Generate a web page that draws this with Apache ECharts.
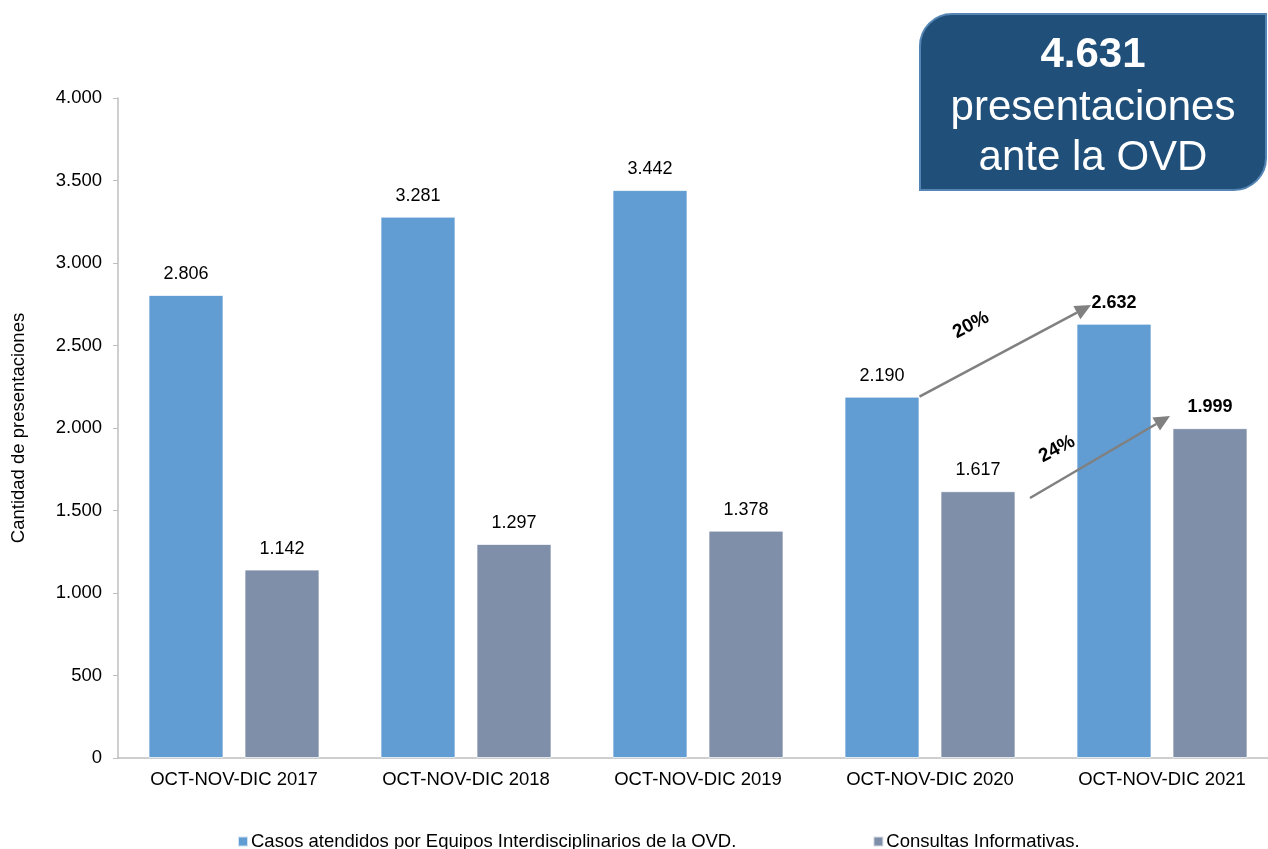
<!DOCTYPE html>
<html><head><meta charset="utf-8">
<script src="https://cdn.jsdelivr.net/npm/echarts@6/dist/echarts.min.js"></script>
<style>html,body{margin:0;padding:0;background:#fff}#c{width:1268px;height:849px}</style>
</head><body><div id="c"></div>
<script>
const categories = ['OCT-NOV-DIC 2017','OCT-NOV-DIC 2018','OCT-NOV-DIC 2019','OCT-NOV-DIC 2020','OCT-NOV-DIC 2021'];
const casos = [2806, 3281, 3442, 2190, 2632];
const consultas = [1142, 1297, 1378, 1617, 1999];
const seriesNames = ['Casos atendidos por Equipos Interdisciplinarios de la OVD.', 'Consultas Informativas.'];
const yTicks = [0, 500, 1000, 1500, 2000, 2500, 3000, 3500, 4000];
const growth = ['20%', '24%'];
const totalText = ['4.631', 'presentaciones', 'ante la OVD'];

const FONT = '"Liberation Sans", Arial, sans-serif';
const fmt = v => String(v).replace(/\B(?=(\d{3})+(?!\d))/g, '.');
const BLUE = '#619dd2', GRAY = '#7f8fa9';
const FS = 18.5;

const chart = echarts.init(document.getElementById('c'));
function lbl(){
  return {
    show: true, position: 'top', distance: 12,
    fontFamily: FONT, fontSize: 18, color: '#000',
    formatter: p => fmt(p.value)
  };
}
function mkData(arr){
  return arr.map((v,i)=> i === arr.length-1 ? {value:v, label:{fontWeight:'bold'}} : v);
}
chart.setOption({
  animation: false,
  textStyle: {fontFamily: FONT},
  grid: {left: 118, right: -10, top: 98, bottom: 91, containLabel: false, outerBoundsMode: 'none'},
  legend: {
    top: 827, left: 232, icon: 'rect', itemWidth: 10, itemHeight: 10, itemGap: 136,
    textStyle: {fontFamily: FONT, fontSize: FS, color: '#000', padding: [0,0,0,-2]},
    data: seriesNames
  },
  xAxis: {
    type: 'category', data: categories,
    axisLine: {lineStyle: {color: '#bfbfbf', width: 1.5}},
    axisTick: {show: false},
    axisLabel: {fontFamily: FONT, fontSize: FS, color: '#000', margin: 12}
  },
  yAxis: {
    type: 'value', min: yTicks[0], max: yTicks[yTicks.length-1], interval: 500,
    name: 'Cantidad de presentaciones', nameLocation: 'middle', nameGap: 90,
    nameTextStyle: {fontFamily: FONT, fontSize: FS, color: '#000'},
    axisLine: {show: true, lineStyle: {color: '#bfbfbf', width: 1.5}},
    axisTick: {show: true, length: 5, lineStyle: {color: '#bfbfbf'}},
    splitLine: {show: false},
    axisLabel: {fontFamily: FONT, fontSize: FS, color: '#000', margin: 16, formatter: v => fmt(v)}
  },
  series: [
    {name: seriesNames[0], type: 'bar', data: mkData(casos), barWidth: 75, barGap: '28%',
     itemStyle: {color: BLUE, borderColor: 'rgba(255,255,255,0.7)', borderWidth: 1}, label: lbl()},
    {name: seriesNames[1], type: 'bar', data: mkData(consultas), barWidth: 75,
     itemStyle: {color: GRAY, borderColor: 'rgba(255,255,255,0.7)', borderWidth: 1}, label: lbl()}
  ]
});

// annotations positioned from data coordinates
function px(ci, v){ return chart.convertToPixel({xAxisIndex:0, yAxisIndex:0}, [ci, v]); }
const off = 48; // half of (bar width + gap)
function arrow(p0, p1){
  const dx = p1[0]-p0[0], dy = p1[1]-p0[1];
  const L = Math.hypot(dx,dy), ux = dx/L, uy = dy/L;
  const hl = 16, hw = 7.5;
  const bx = p1[0]-ux*hl, by = p1[1]-uy*hl;
  return [
    {type:'line', z: 100, shape:{x1:p0[0], y1:p0[1], x2:bx, y2:by}, style:{stroke:'#808080', lineWidth:2.5}},
    {type:'polygon', z: 100, shape:{points:[[p1[0],p1[1]],[bx-uy*hw, by+ux*hw],[bx+uy*hw, by-ux*hw]]}, style:{fill:'#808080'}}
  ];
}
const n = categories.length;
const c20 = px(n-2, 0)[0], c21 = px(n-1, 0)[0];
const a1s = [c20 - off + 37.5, px(0, casos[n-2])[1]];
const a1e = [c21 - off - 23, px(0, 2745)[1]];
const a2s = [c20 + off + 52, px(0, 1576)[1]];
const a2e = [c21 + off - 40, px(0, 2073)[1]];

const boxL = 920, boxT = 14, boxW = 346, boxH = 176;
const g = [
  ...arrow(a1s, a1e), ...arrow(a2s, a2e),
  {type:'text', z: 100, x: 971, y: 325, rotation: 28*Math.PI/180,
   style:{text: growth[0], font: 'bold 19px ' + FONT, fill:'#000', align:'center', verticalAlign:'middle'}},
  {type:'text', z: 100, x: 1057, y: 449, rotation: 28*Math.PI/180,
   style:{text: growth[1], font: 'bold 19px ' + FONT, fill:'#000', align:'center', verticalAlign:'middle'}},
  {type:'rect', z: 100, shape:{x: boxL, y: boxT, width: boxW, height: boxH, r:[32, 0, 32, 0]},
   style:{fill:'#20507a', stroke:'#5585b5', lineWidth:2}},
  {type:'text', z: 101, x: 1093, y: 55, style:{text: totalText[0], font:'bold 42px ' + FONT, fill:'#fff', align:'center', verticalAlign:'middle'}},
  {type:'text', z: 101, x: 1093, y: 108, style:{text: totalText[1], font:'42px ' + FONT, fill:'#fff', align:'center', verticalAlign:'middle'}},
  {type:'text', z: 101, x: 1093, y: 158, style:{text: totalText[2], font:'42px ' + FONT, fill:'#fff', align:'center', verticalAlign:'middle'}}
];
chart.setOption({graphic: g});
</script></body></html>
